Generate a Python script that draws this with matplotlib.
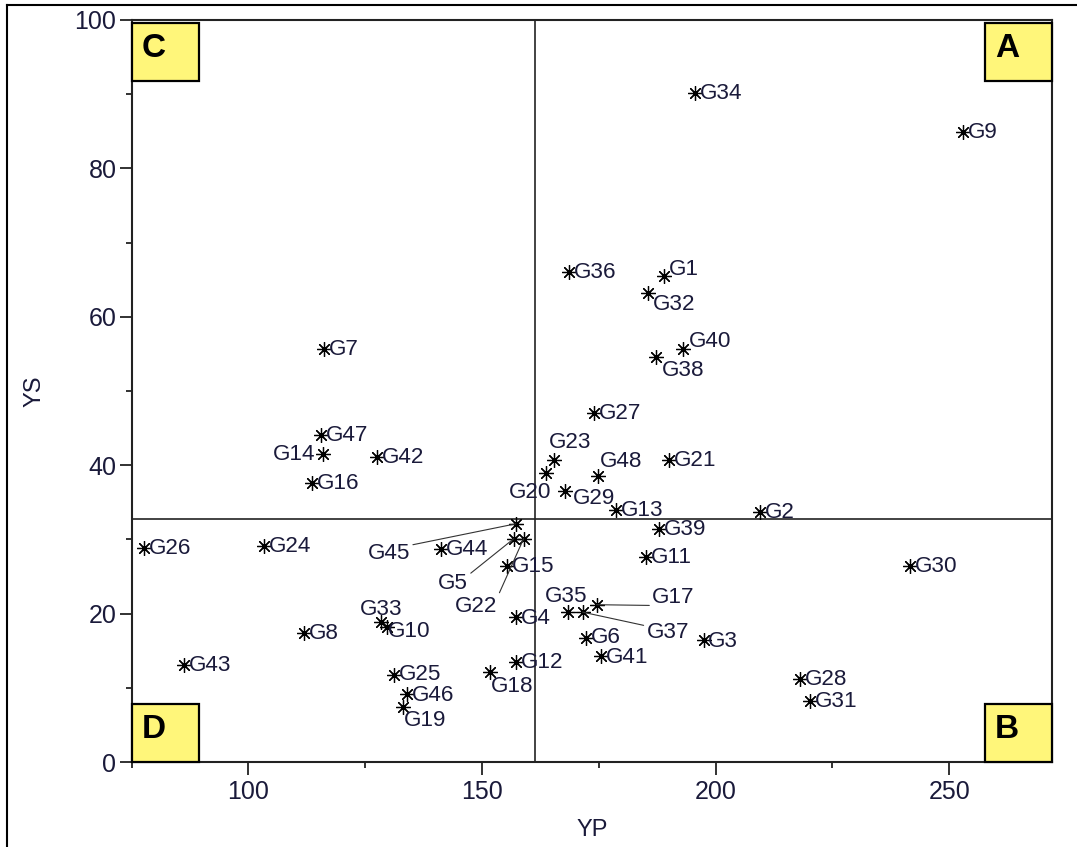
import matplotlib.pyplot as plt
from matplotlib.patches import Rectangle
from matplotlib.lines import Line2D
import numpy as np

# datos: genotipos, rendimiento potencial (YP) y bajo estres (YS)
genotipos = ['G1', 'G2', 'G3', 'G4', 'G5', 'G6', 'G7', 'G8', 'G9', 'G10',
             'G11', 'G12', 'G13', 'G14', 'G15', 'G16', 'G17', 'G18', 'G19', 'G20',
             'G21', 'G22', 'G23', 'G24', 'G25', 'G26', 'G27', 'G28', 'G29', 'G30',
             'G31', 'G32', 'G33', 'G34', 'G35', 'G36', 'G37', 'G38', 'G39', 'G40',
             'G41', 'G42', 'G43', 'G44', 'G45', 'G46', 'G47', 'G48']
YP = [189.0, 209.4, 197.4, 157.2, 156.8, 172.2, 116.1, 111.9, 253.0, 129.6,
      185.0, 157.2, 178.6, 115.9, 155.3, 113.6, 174.5, 151.6, 133.0, 163.6,
      190.1, 158.9, 165.5, 103.3, 131.1, 77.7, 173.9, 218.1, 167.7, 241.6,
      220.3, 185.6, 128.3, 195.5, 168.3, 168.7, 171.5, 187.3, 187.8, 193.1,
      175.4, 127.5, 86.2, 141.2, 157.2, 133.9, 115.5, 174.9]
YS = [65.5, 33.7, 16.4, 19.5, 30.1, 16.7, 55.7, 17.4, 84.9, 18.2,
      27.6, 13.5, 34.0, 41.5, 26.4, 37.6, 21.2, 12.1, 7.4, 39.0,
      40.7, 30.1, 40.7, 29.1, 11.7, 28.8, 47.0, 11.2, 36.5, 26.4,
      8.2, 63.2, 18.9, 90.2, 20.2, 66.0, 20.2, 54.6, 31.4, 55.7,
      14.3, 41.1, 13.1, 28.7, 32.1, 9.2, 44.1, 38.5]
YP_medio = 161.3
YS_medio = 32.8
cuadrantes = ['A', 'B', 'C', 'D']

# posicion de las etiquetas (puntos de desplazamiento, alineacion, linea guia)
etiq = {
    'G14': (-5, 0, 'right', None),
    'G1': (3, 5, 'left', None),
    'G32': (3, -8, 'left', None),
    'G40': (4, 6, 'left', None),
    'G38': (4, -9, 'left', None),
    'G23': (-4, 13, 'left', None),
    'G48': (1, 11, 'left', None),
    'G20': (4, -14, 'right', None),
    'G29': (6, -5, 'left', None),
    'G33': (0, 9, 'center', None),
    'G10': (1, -3, 'left', None),
    'G18': (1, -10, 'left', None),
    'G19': (1, -9, 'left', None),
    'G35': (-1, 12, 'center', None),
    'G25': (3.5, 1, 'left', None),
    'G46': (3.5, -1, 'left', None),
    'G6': (3.5, 1, 'left', None),
    'G41': (3.5, -1, 'left', None),
    'G17': (40, 6, 'left', (0, 0.1)),
    'G37': (46, -14, 'left', (0, 0.8)),
    'G45': (-76, -21, 'right', (1, 0.9)),
    'G5': (-33, -32, 'right', (1, 0.9)),
    'G22': (-19, -48, 'right', (1, 0.9)),
}

plt.rcParams['font.family'] = ['Liberation Sans', 'DejaVu Sans']
color_txt = '#1a1a3a'

fig = plt.figure(figsize=(10.77, 8.47), dpi=100)
ax = fig.add_axes([131.7/1077, 1 - 762/847, (1052 - 131.7)/1077, 742/847])

ax.plot(YP, YS, linestyle='none', marker=(8, 2, 0), markersize=10.5,
        markeredgewidth=0.9, color='black', zorder=3)

ax.axvline(YP_medio, color='#222222', lw=1.2, zorder=2)
ax.axhline(YS_medio, color='#222222', lw=1.2, zorder=2)

for g, x, y in zip(genotipos, YP, YS):
    dx, dy, ha, rel = etiq.get(g, (3.5, 0, 'left', None))
    kw = {}
    if rel is not None:
        kw['arrowprops'] = dict(arrowstyle='-', color='#333333', lw=0.8,
                                shrinkA=0, shrinkB=0, relpos=rel)
    ax.annotate(g, (x, y), xytext=(dx, dy - 0.5), textcoords='offset points',
                ha=ha, va='center', fontsize=16.2, color=color_txt, zorder=4, **kw)

ax.set_xlim(75, 272)
ax.set_ylim(0, 100)
ax.set_xticks([100, 150, 200, 250])
ax.set_xticks([75, 125, 175, 225], minor=True)
ax.set_yticks([0, 20, 40, 60, 80, 100])
ax.set_yticks([10, 30, 50, 70, 90], minor=True)
ax.tick_params(which='major', length=9, width=1.3, color='#222222',
               labelsize=18, labelcolor=color_txt)
ax.tick_params(which='minor', length=4, width=1.3, color='#222222')
ax.tick_params(axis='x', pad=4)
ax.tick_params(axis='y', pad=2)
for s in ax.spines.values():
    s.set_linewidth(1.5)
    s.set_color('#222222')

ax.set_xlabel('YP', fontsize=17, color=color_txt)
ax.set_ylabel('YS', fontsize=17, color=color_txt)
ax.xaxis.set_label_coords(0.5, -0.077)
ax.yaxis.set_label_coords(-0.094, 0.5)

# cajas amarillas de los cuadrantes
bw = 67/920.3
bh = 58/742
pos = {'A': (1 - bw, 1 - bh - 3/742), 'B': (1 - bw, 0), 'C': (0, 1 - bh - 3/742), 'D': (0, 0)}
for c in cuadrantes:
    x0, y0 = pos[c]
    ax.add_patch(Rectangle((x0, y0), bw, bh, transform=ax.transAxes,
                           facecolor='#fff67a', edgecolor='black', lw=1.6,
                           clip_on=False, zorder=5))
    ax.text(x0 + 10/920.3, y0 + bh - 10/742, c, transform=ax.transAxes,
            ha='left', va='top', fontsize=24, fontweight='bold', zorder=6)

# marco exterior
fig.add_artist(Line2D([6.5/1077, 6.5/1077], [0, 1 - 5/847], color='black', lw=1.5))
fig.add_artist(Line2D([6.5/1077, 1], [1 - 5/847, 1 - 5/847], color='black', lw=1.5))

plt.savefig('out.png', dpi=100)
